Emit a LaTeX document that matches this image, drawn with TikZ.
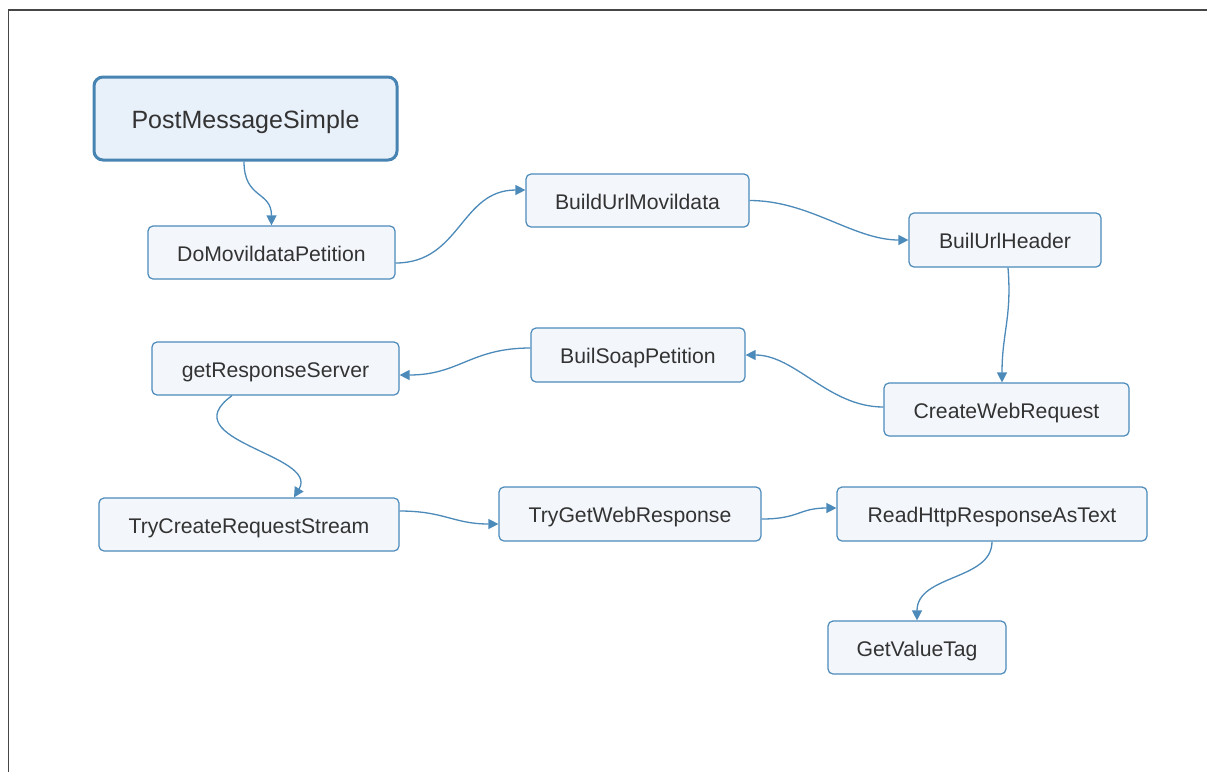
\documentclass[tikz,border=0pt]{standalone}
\usepackage{fontspec}
\setmainfont{Liberation Sans}
\usetikzlibrary{arrows.meta}
\definecolor{edgeblue}{RGB}{76,138,186}
\definecolor{boxfill}{RGB}{243,247,252}
\definecolor{mainfill}{RGB}{232,240,250}
\definecolor{txt}{RGB}{51,51,51}
\definecolor{mainborder}{RGB}{72,132,178}
\definecolor{framegray}{RGB}{70,70,70}
\begin{document}
\begin{tikzpicture}[x=1pt,y=-1pt,
 box/.style={draw=edgeblue, line width=1.2pt, fill=boxfill, rounded corners=5pt, inner sep=0pt, text=txt, font=\fontsize{21.2}{25}\selectfont, text height=17pt, text depth=0pt},
 mainbox/.style={draw=mainborder, line width=3pt, fill=mainfill, rounded corners=9pt, inner sep=0pt, text=txt, font=\fontsize{25}{30}\selectfont, text height=20.5pt, text depth=0pt},
 conn/.style={draw=edgeblue, line width=1.3pt, -{Triangle[length=10pt,width=10pt]}}]
\useasboundingbox (0,0) rectangle (1207,772);
\fill[white] (0,0) rectangle (1207,772);
\draw[framegray, line width=1.5pt] (1207,10) -- (8.5,10) -- (8.5,772);

\node[mainbox, minimum width=303pt, minimum height=83pt] (pms) at (245.5,118.5) {PostMessageSimple};
\node[box, minimum width=247pt, minimum height=53pt] (dmp) at (271.5,252.5) {DoMovildataPetition};
\node[box, minimum width=223pt, minimum height=53pt] (bum) at (637.5,200.5) {BuildUrlMovildata};
\node[box, minimum width=192pt, minimum height=54pt] (buh) at (1005,240) {BuilUrlHeader};
\node[box, minimum width=245pt, minimum height=53pt] (cwr) at (1006.5,409.5) {CreateWebRequest};
\node[box, minimum width=214pt, minimum height=54pt] (bsp) at (638,355) {BuilSoapPetition};
\node[box, minimum width=247pt, minimum height=53pt] (grs) at (275.5,368.5) {getResponseServer};
\node[box, minimum width=300pt, minimum height=53pt] (tcrs) at (249,524.5) {TryCreateRequestStream};
\node[box, minimum width=262pt, minimum height=54pt] (tgwr) at (630,514) {TryGetWebResponse};
\node[box, minimum width=310pt, minimum height=54pt] (rhrt) at (992,514) {ReadHttpResponseAsText};
\node[box, minimum width=178pt, minimum height=53pt] (gvt) at (917,647.5) {GetValueTag};

\draw[conn] ([xshift=-1.5pt]pms.south) .. controls +(0,38) and +(0,-35) .. (dmp.north);
\draw[conn] ([yshift=-10.5pt]dmp.east) .. controls +(65,0) and +(-65,0) .. ([yshift=10.5pt]bum.west);
\draw[conn] (bum.east) .. controls +(60,0) and +(-55,0) .. (buh.west);
\draw[conn] ([xshift=3pt]buh.south) .. controls +(4,50) and +(0,-50) .. ([xshift=-4.5pt]cwr.north);
\draw[conn] ([yshift=2.5pt]cwr.west) .. controls +(-55,0) and +(50,0) .. (bsp.east);
\draw[conn] ([yshift=7pt]bsp.west) .. controls +(-60,0) and +(60,0) .. ([yshift=-6.5pt]grs.east);
\draw[conn] ([xshift=-43.5pt]grs.south) .. controls +(-62,45) and +(26,-43) .. ([xshift=45pt]tcrs.north);
\draw[conn] ([yshift=13.5pt]tcrs.east) .. controls +(45,0) and +(-45,0) .. ([yshift=-10pt]tgwr.west);
\draw[conn] ([yshift=-5pt]tgwr.east) .. controls +(38,0) and +(-38,0) .. ([yshift=6pt]rhrt.west);
\draw[conn] (rhrt.south) .. controls +(0,39) and +(0,-46) .. (gvt.north);
\end{tikzpicture}
\end{document}
